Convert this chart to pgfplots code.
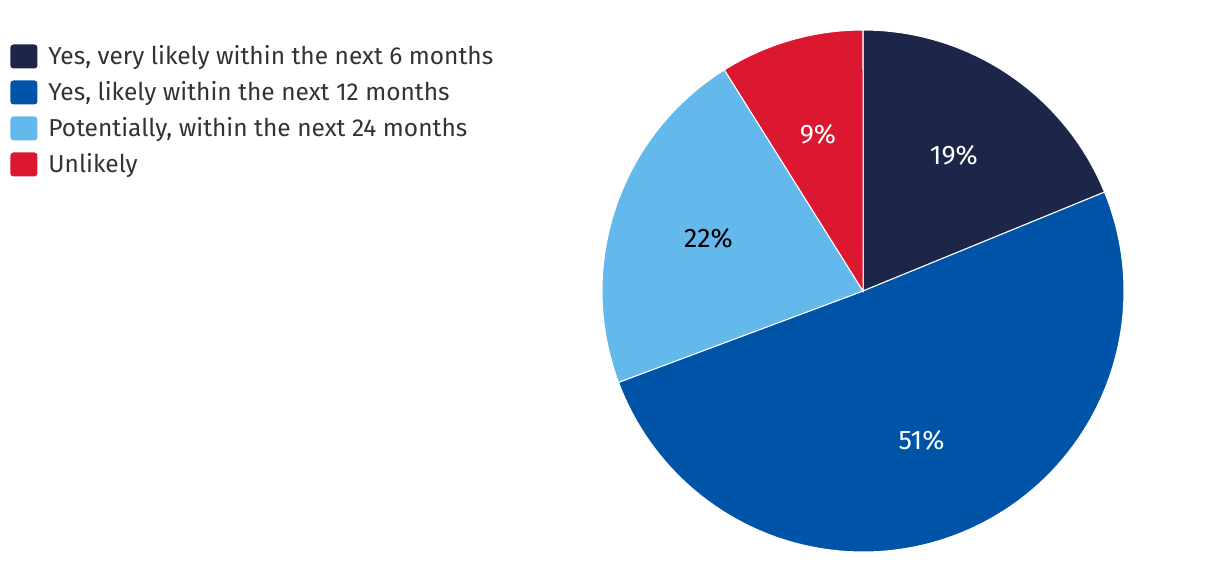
\documentclass[border=0pt]{standalone}
\usepackage{fontspec}
\setmainfont{Fira Sans}
\usepackage{pgfplots}
\pgfplotsset{compat=1.18}
\definecolor{cnavy}{HTML}{1B2649}
\definecolor{cblue}{HTML}{0054A8}
\definecolor{clight}{HTML}{63B8EC}
\definecolor{cred}{HTML}{DB1830}
\definecolor{ctext}{HTML}{333333}
\begin{document}
\begin{tikzpicture}
\useasboundingbox (0,0) rectangle (610pt,281pt);
% shares (percent) as shown in the chart
\def\vA{19}\def\vB{51}\def\vC{22}\def\vD{9}
\pgfmathsetmacro\tot{\vA+\vB+\vC+\vD}
\pgfmathsetmacro\aA{90}
\pgfmathsetmacro\aB{\aA-360/\tot*\vA}
\pgfmathsetmacro\aC{\aB-360/\tot*\vB}
\pgfmathsetmacro\aD{\aC-360/\tot*\vC}
\pgfmathsetmacro\aE{\aD-360/\tot*\vD}
\pgfmathsetmacro\mA{(\aA+\aB)/2}
\pgfmathsetmacro\mB{(\aB+\aC)/2}
\pgfmathsetmacro\mC{(\aC+\aD)/2}
\pgfmathsetmacro\mD{(\aD+\aE)/2}
\begin{axis}[
  at={(431.5pt,135.5pt)}, anchor=center,
  scale only axis, width=261pt, height=261pt,
  xmin=-1, xmax=1, ymin=-1, ymax=1,
  hide axis, clip=false,
  legend style={at={(-1.134,0.973)}, anchor=north west, draw=none, fill=none,
    inner sep=0pt, font=\fontsize{12.25}{14}\selectfont, text=ctext,
    nodes={inner sep=0pt, text height=9pt, text depth=3pt}, row sep=5pt},
  legend cell align=left,
  legend image code/.code={\fill[#1, draw=none, rounded corners=1.5pt] (0pt,-5pt) rectangle (13.5pt,7pt);
    \path[draw=none, fill=none] (0pt,0pt) -- (19pt,0pt);},
]
\addplot[fill=cnavy, draw=white, line width=0.5pt, domain=\aB:\aA, samples=40] ({cos(x)},{sin(x)}) -- (axis cs:0,0) -- cycle;
\addlegendentry{Yes, very likely within the next 6 months}
\addplot[fill=cblue, draw=white, line width=0.5pt, domain=\aC:\aB, samples=100] ({cos(x)},{sin(x)}) -- (axis cs:0,0) -- cycle;
\addlegendentry{Yes, likely within the next 12 months}
\addplot[fill=clight, draw=white, line width=0.5pt, domain=\aD:\aC, samples=50] ({cos(x)},{sin(x)}) -- (axis cs:0,0) -- cycle;
\addlegendentry{Potentially, within the next 24 months}
\addplot[fill=cred, draw=white, line width=0.5pt, domain=\aE:\aD, samples=25] ({cos(x)},{sin(x)}) -- (axis cs:0,0) -- cycle;
\addlegendentry{Unlikely}
\addplot[forget plot, draw=none, mark=none, data cs=polar, nodes near coords, point meta=explicit symbolic,
  every node near coord/.append style={anchor=center, text=white, font=\fontsize{13.4}{15}\selectfont}]
  coordinates {(\mA,0.625) [\vA\%] (\mB,0.615) [\vB\%] (\mD,0.625) [\vD\%]};
\addplot[forget plot, draw=none, mark=none, data cs=polar, nodes near coords, point meta=explicit symbolic,
  every node near coord/.append style={anchor=center, text=black, font=\fontsize{13.4}{15}\selectfont}]
  coordinates {(\mC,0.625) [\vC\%]};
\end{axis}
\end{tikzpicture}
\end{document}
